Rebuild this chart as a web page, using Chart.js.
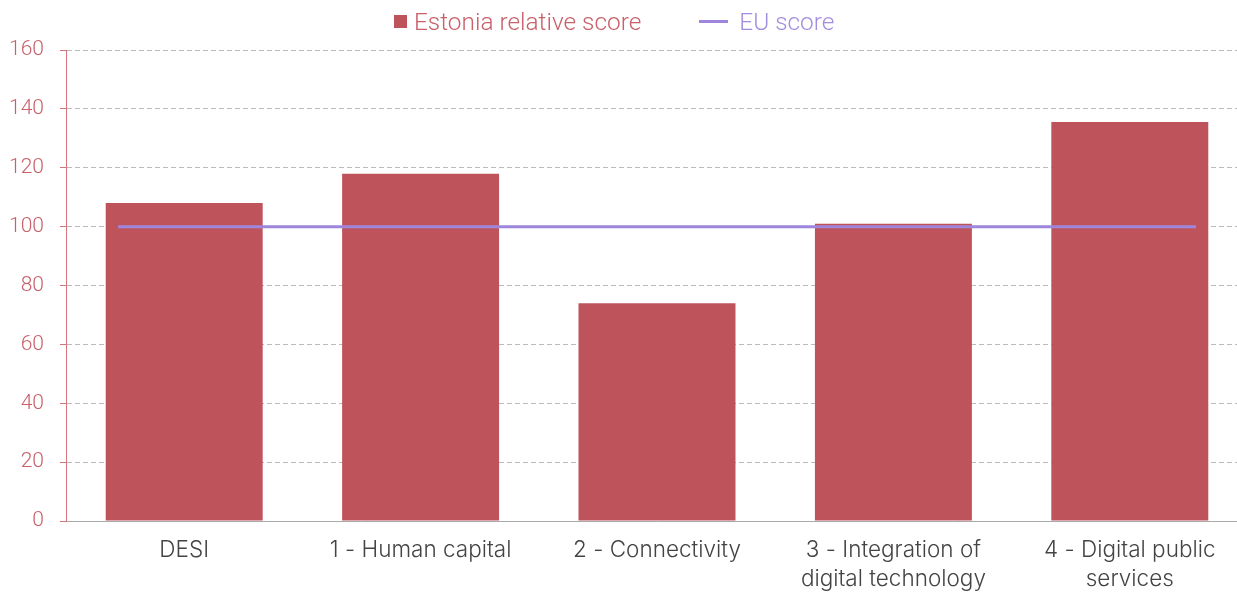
<!DOCTYPE html>
<html>
<head>
<meta charset="utf-8">
<script src="https://cdn.jsdelivr.net/npm/chart.js@4"></script>
<style>
  html, body { margin: 0; padding: 0; background: #fff; overflow: hidden; }
  #wrap { position: relative; width: 1250px; height: 592px; }
  #legend { position: absolute; top: 5px; left: 394px; font-family: Roboto, sans-serif; font-weight: 300; font-size: 24.4px; white-space: nowrap; }
  #legend span { display: inline-block; vertical-align: middle; }
  .box { width: 13px; height: 13px; background: #be535c; margin-right: 7px; }
  .ln { width: 29px; height: 3px; background: #9d86dc; margin-left: 58px; margin-right: 11px; }
</style>
</head>
<body>
<div id="wrap">
  <canvas id="chart"></canvas>
  <div id="legend">
    <span class="box"></span><span style="color:#c8606a">Estonia relative score</span><span class="ln"></span><span style="color:#a38ddf">EU score</span>
  </div>
</div>
<script>
// categorias e valores
const categories = ['DESI', '1 - Human capital', '2 - Connectivity', ['3 - Integration of', 'digital technology'], ['4 - Digital public', 'services']];
const estoniaScore = [108, 118, 74, 101, 135.5];
const euScore = [100, 100, 100, 100, 100];
const yTicks = [0, 20, 40, 60, 80, 100, 120, 140, 160];

Chart.defaults.font.family = 'Roboto, sans-serif';
Chart.defaults.font.weight = '300';

const ctx = document.getElementById('chart');
new Chart(ctx, {
    type: 'bar',
    data: {
        labels: categories,
        datasets: [{
            type: 'bar',
            label: 'Estonia relative score',
            data: estoniaScore,
            backgroundColor: '#be535c',
            barPercentage: 0.664,
            categoryPercentage: 1,
            grouped: false,
            order: 1
        }, {
            type: 'line',
            label: 'EU score',
            data: euScore.map((v, i) => ({ x: i, y: v })),
            xAxisID: 'x2',
            borderColor: '#9d86dc',
            borderWidth: 3,
            pointRadius: 0,
            fill: false,
            order: 0
        }]
    },
    options: {
        responsive: true,
        maintainAspectRatio: false,
        animation: false,
        layout: { padding: { left: 0, right: 2, top: 50, bottom: 0 } },
        plugins: { legend: { display: false }, tooltip: { enabled: false } },
        scales: {
            x: {
                type: 'category',
                grid: { display: false, drawTicks: false },
                border: { color: '#aaaaaa', width: 1 },
                ticks: { color: '#444444', font: { family: 'Inter, sans-serif', size: 22.5, weight: '300', lineHeight: 1.29 }, padding: 15, maxRotation: 0, autoSkip: false },
                afterFit: (scale) => { scale.height = 71; }
            },
            // eixo auxiliar só para a linha da UE
            x2: {
                type: 'linear',
                display: false,
                offset: false,
                min: -0.193,
                max: 4.193
            },
            y: {
                min: 0,
                max: 160,
                afterBuildTicks: (scale) => { scale.ticks = yTicks.map(v => ({ value: v })); },
                grid: { color: '#bbbbbb', tickColor: '#d7737b', tickLength: 6, tickBorderDash: [], lineWidth: 1 },
                border: { color: '#d7737b', width: 1, dash: [5, 3] },
                ticks: { color: '#c8606a', font: { size: 21, weight: '300' }, padding: 16 },
                afterFit: (scale) => { scale.width = 66; }
            }
        }
    }
});
</script>
</body>
</html>
